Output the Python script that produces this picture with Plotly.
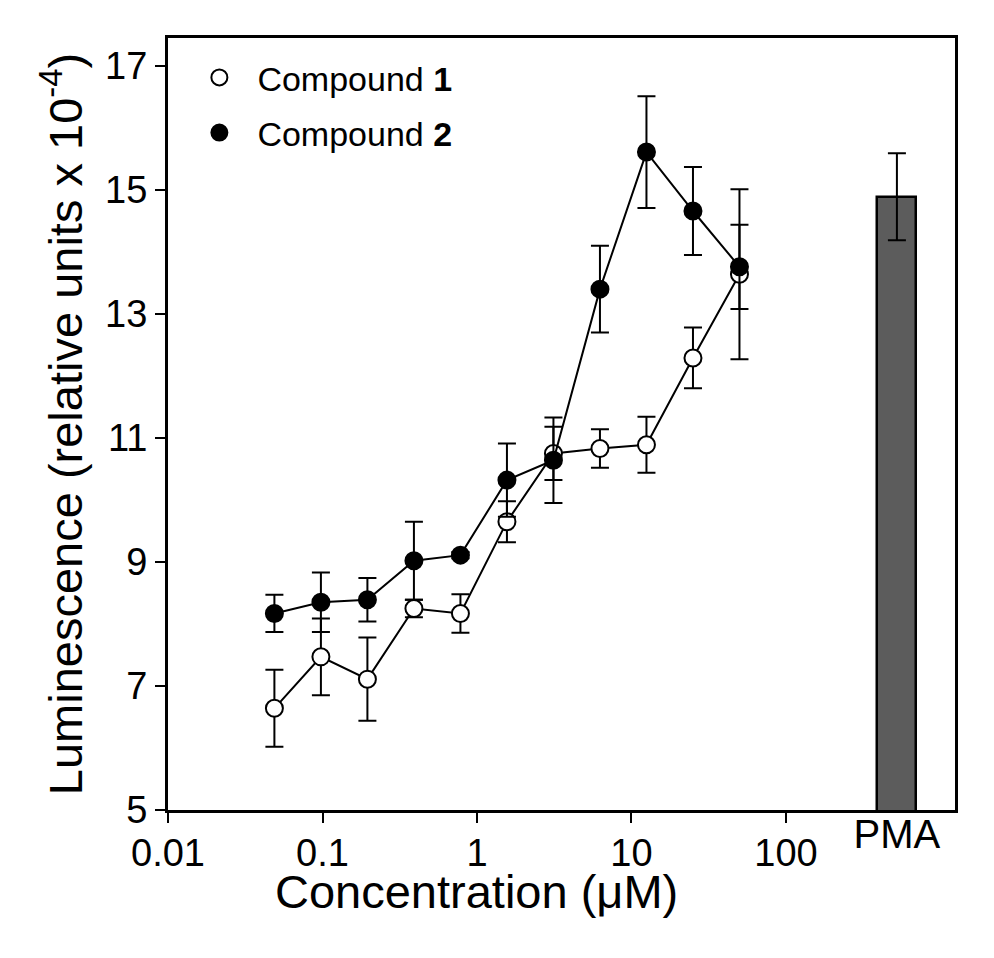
import plotly.graph_objects as go

# ---- data ----
conc = [0.04883, 0.09766, 0.1953, 0.3906, 0.78125, 1.5625, 3.125, 6.25, 12.5, 25, 50]
c1_mean = [6.64, 7.47, 7.11, 8.25, 8.17, 9.65, 10.75, 10.83, 10.89, 12.29, 13.64]
c1_err = [0.62, 0.62, 0.67, 0.14, 0.31, 0.33, 0.43, 0.31, 0.45, 0.49, 1.37]
c2_mean = [8.17, 8.35, 8.39, 9.02, 9.11, 10.32, 10.64, 13.40, 15.61, 14.66, 13.76]
c2_err = [0.30, 0.48, 0.35, 0.63, 0.05, 0.59, 0.69, 0.70, 0.90, 0.71, 0.68]
pma_label = ["PMA"]
pma_mean = [14.89]
pma_err = [0.70]
pma_pos = [2.718]      # position in log10 units on the overlay axis
pma_width = 0.252

xtick_vals = [0.01, 0.1, 1, 10, 100]
xtick_text = ["0.01", "0.1", "1", "10", "100"]
ytick_vals = [5, 7, 9, 11, 13, 15, 17]

FONT = "Liberation Sans, Arial, sans-serif"

fig = go.Figure()

fig.add_trace(go.Bar(
    x=pma_pos, y=pma_mean, width=pma_width, xaxis="x2", yaxis="y",
    base=0,
    marker=dict(color="#5c5c5c", line=dict(color="black", width=2.5)),
    error_y=dict(type="data", array=pma_err, color="black", thickness=2, width=9),
    showlegend=False,
))

fig.add_trace(go.Scatter(
    x=conc, y=c1_mean, mode="lines+markers", name="Compound <b>1</b>",
    line=dict(color="black", width=2),
    marker=dict(symbol="circle", size=17, color="white", line=dict(color="black", width=2)),
    error_y=dict(type="data", array=c1_err, color="black", thickness=2, width=9),
    showlegend=False,
))
fig.add_trace(go.Scatter(
    x=conc, y=c2_mean, mode="lines+markers", name="Compound <b>2</b>",
    line=dict(color="black", width=2),
    marker=dict(symbol="circle", size=17, color="black", line=dict(color="black", width=2)),
    error_y=dict(type="data", array=c2_err, color="black", thickness=2, width=9),
    showlegend=False,
))

# legend entries (markers only, as in the reference legend)
fig.add_trace(go.Scatter(
    x=[None], y=[None], mode="markers", name="Compound <b>1</b>",
    marker=dict(symbol="circle", size=17, color="white", line=dict(color="black", width=2)),
    legendgroup="a",
))
fig.add_trace(go.Scatter(
    x=[None], y=[None], mode="markers", name="Compound <b>2</b>",
    marker=dict(symbol="circle", size=17, color="black", line=dict(color="black", width=2)),
    legendgroup="b",
))

fig.add_annotation(
    x=0, xref="x", y=-(891 - 810) / 772, yref="paper",
    text="Concentration (μM)", showarrow=False,
    xanchor="center", yanchor="middle",
    font=dict(size=47, family=FONT, color="black"),
)

# page body adds an 8 px margin, so the figure is sized 8 px smaller
fig.update_layout(
    width=986, height=950,
    margin=dict(l=160, r=39, t=30, b=148),
    paper_bgcolor="white", plot_bgcolor="white",
    font=dict(family=FONT, color="black"),
    bargap=0,
    xaxis=dict(
        type="log", range=[-2, 3.094], automargin=False,
        tickvals=xtick_vals, ticktext=xtick_text,
        ticks="outside", ticklen=10, tickwidth=2, tickcolor="black",
        showline=True, linewidth=3, linecolor="black", mirror=True,
        showgrid=False, zeroline=False, ticklabelstandoff=-3,
        tickfont=dict(size=38, family=FONT),
    ),
    xaxis2=dict(
        overlaying="x", side="bottom", range=[-2, 3.094], automargin=False,
        tickvals=pma_pos, ticktext=pma_label, ticks="",
        showline=False, showgrid=False, zeroline=False, ticklabelstandoff=-3,
        tickfont=dict(size=40, family=FONT),
    ),
    yaxis=dict(
        range=[5, 17.45], tickvals=ytick_vals, automargin=False,
        ticks="outside", ticklen=10, tickwidth=2, tickcolor="black",
        showline=True, linewidth=3, linecolor="black", mirror=True,
        showgrid=False, zeroline=False, ticklabelstandoff=0,
        tickfont=dict(size=38, family=FONT),
        title=dict(text="Luminescence (relative units x 10<sup>-4</sup>)",
                   font=dict(size=47, family=FONT), standoff=8),
    ),
    legend=dict(
        x=0.017, y=0.986, xanchor="left", yanchor="top",
        bgcolor="rgba(0,0,0,0)", font=dict(size=34, family=FONT),
        tracegroupgap=8, itemwidth=66,
    ),
)

fig.write_html("out.html")
